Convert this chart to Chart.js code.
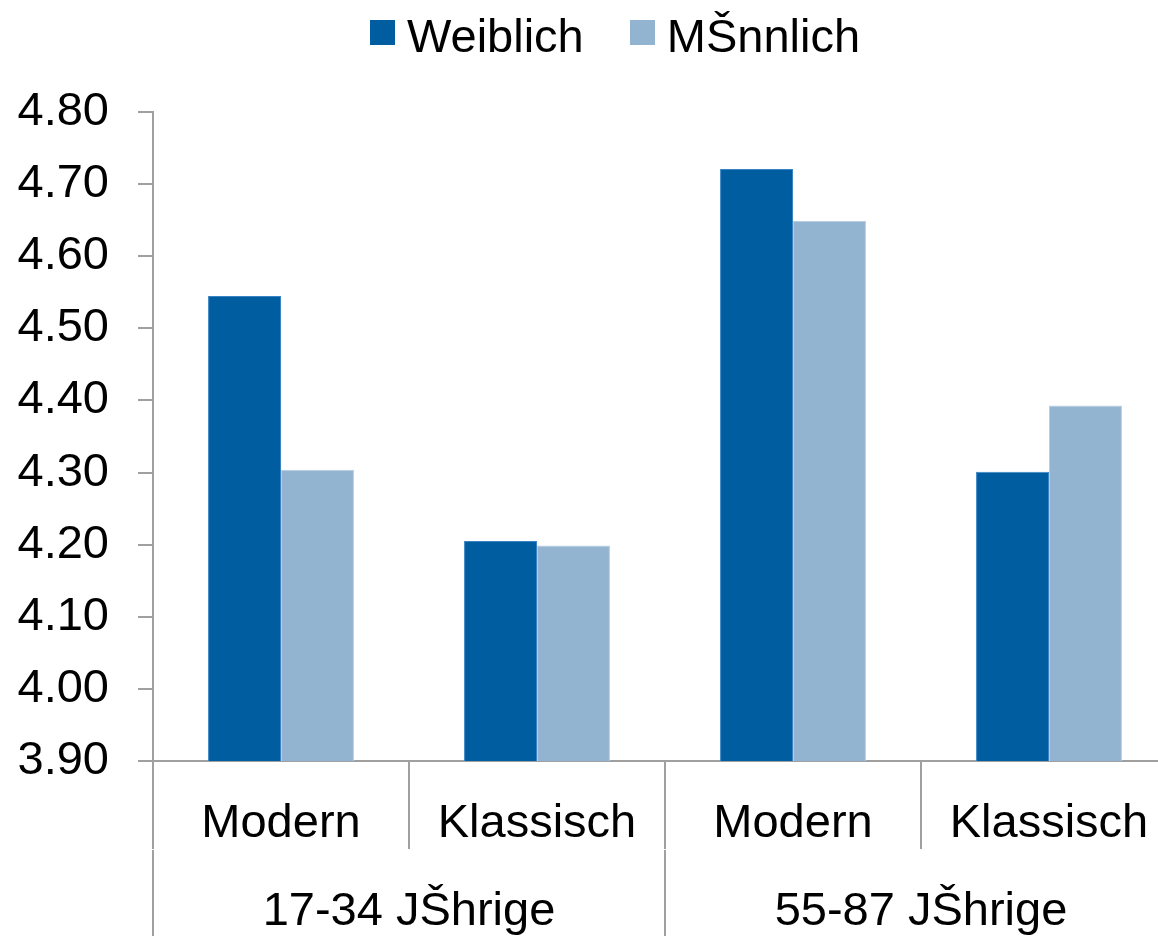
<!DOCTYPE html>
<html>
<head>
<meta charset="utf-8">
<title>Weiblich / Männlich</title>
<script src="https://cdn.jsdelivr.net/npm/chart.js@4/dist/chart.umd.min.js"></script>
<style>
  html, body { margin: 0; padding: 0; background: #fff; overflow: hidden; }
  #wrap { position: relative; width: 1158px; height: 936px; overflow: hidden; }
  #legend {
    position: absolute; left: 370px; top: 8px; display: flex;
    font: 47px 'Liberation Sans', Arial, sans-serif; line-height: 56px; color: #000;
  }
  .item { display: flex; align-items: flex-start; margin-right: 46px; }
  .swatch { width: 25px; height: 25px; margin-top: 12px; margin-right: 12px; }
  canvas { position: absolute; left: 0; top: 0; }
</style>
</head>
<body>
<div id="wrap">
  <canvas id="chart" width="1180" height="940"></canvas>
  <div id="legend"></div>
</div>
<script>
// Mittelwerte nach Geschlecht, Stil und Altersgruppe
const categories = ['Modern', 'Klassisch', 'Modern', 'Klassisch'];
const groupLabels = ['17-34 JŠhrige', '55-87 JŠhrige'];
const seriesNames = ['Weiblich', 'MŠnnlich'];
const weiblich = [4.545, 4.205, 4.721, 4.301];
const maennlich = [4.304, 4.199, 4.649, 4.393];
const yTicks = { min: 3.9, max: 4.8, step: 0.1 };

const fillColors = ['#005da0', '#93b4d0'];
const edgeColors = ['#3a84c4', '#b6cde2'];
const axisGray = '#a0a0a0';

Chart.defaults.font.family = "'Liberation Sans', Arial, sans-serif";
Chart.defaults.font.size = 47;
Chart.defaults.color = '#000';

const chart = new Chart(document.getElementById('chart'), {
  type: 'bar',
  data: {
    labels: categories,
    datasets: [weiblich, maennlich].map((values, i) => ({
      label: seriesNames[i],
      data: values,
      backgroundColor: fillColors[i],
      borderColor: edgeColors[i],
      borderWidth: 1,
      categoryPercentage: 0.57,
      barPercentage: 1.0
    }))
  },
  options: {
    responsive: false,
    animation: false,
    layout: { padding: { top: 112, left: 18, right: 3, bottom: 0 } },
    plugins: { legend: { display: false }, tooltip: { enabled: false } },
    scales: {
      // Stil-Ebene: Trennstriche reichen 88px unter die Achse
      x: {
        type: 'category',
        position: 'bottom',
        offset: true,
        grid: { offset: true, drawOnChartArea: false, tickLength: 88, color: axisGray, lineWidth: 2 },
        border: { color: axisGray, width: 2 },
        ticks: { padding: -53.5, maxRotation: 0, autoSkip: false },
        afterFit: s => { s.height = 89; }
      },
      // Altersgruppen-Ebene darunter
      x2: {
        type: 'category',
        position: 'bottom',
        weight: 1,
        labels: groupLabels,
        offset: true,
        grid: { offset: true, drawOnChartArea: false, tickLength: 100, color: axisGray, lineWidth: 2 },
        border: { display: false },
        ticks: { padding: -66.5, maxRotation: 0, autoSkip: false },
        afterFit: s => { s.height = 90; }
      },
      y: {
        min: yTicks.min,
        max: yTicks.max,
        grid: { drawOnChartArea: false, tickLength: 15, color: axisGray, lineWidth: 2 },
        border: { color: axisGray, width: 2 },
        ticks: {
          stepSize: yTicks.step,
          padding: 29,
          callback: v => v.toFixed(2)
        },
        afterFit: s => { s.width = 135; }
      }
    }
  }
});

// Legende als HTML über dem Diagramm
const legend = document.getElementById('legend');
chart.data.datasets.forEach(ds => {
  const item = document.createElement('div');
  item.className = 'item';
  const sw = document.createElement('span');
  sw.className = 'swatch';
  sw.style.background = ds.backgroundColor;
  const txt = document.createElement('span');
  txt.textContent = ds.label;
  item.appendChild(sw);
  item.appendChild(txt);
  legend.appendChild(item);
});
</script>
</body>
</html>
